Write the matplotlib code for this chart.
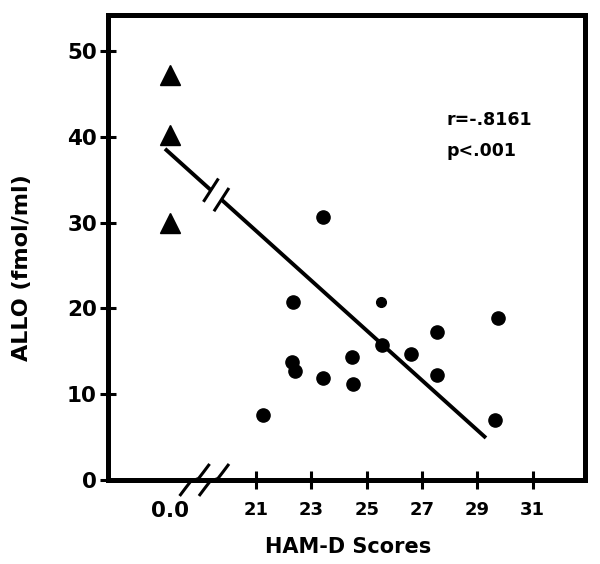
import numpy as np
import matplotlib
matplotlib.use("Agg")
import matplotlib.pyplot as plt

# ---- data ----
ctrl_label = "0.0"
ctrl_pos = 17.9            # axis position used for the "0.0" (control) category
ctrl_allo = [47.2, 40.2, 30.0]

ham_d = [21.26, 22.35, 22.29, 22.41, 23.43, 23.43, 24.46, 24.5, 25.54, 26.6,
         27.55, 27.55, 29.73, 29.65]
allo = [7.6, 20.8, 13.7, 12.7, 30.6, 11.9, 14.3, 11.2, 15.7, 14.7,
        17.2, 12.2, 18.9, 7.0]
small_ham_d = [25.5]
small_allo = [20.7]

fit_x = [17.71, 29.31]
fit_y = [38.6, 4.9]
line_breaks = [19.37, 19.75]
axis_breaks = [18.78, 19.48]

xticks = [21, 23, 25, 27, 29, 31]
yticks = [0, 10, 20, 30, 40, 50]
stats = ["r=-.8161", "p<.001"]

# ---- figure ----
fig = plt.figure(figsize=(6, 5.64), dpi=100)
ax = fig.add_axes([0.18, 0.149, 0.795, 0.8245])
xlim = (15.65, 32.89)
ylim = (0, 54.2)
ax.set_xlim(*xlim)
ax.set_ylim(*ylim)

# pixel -> data unit conversions
fig_w, fig_h = 600, 564
px_x = (xlim[1] - xlim[0]) / (0.795 * fig_w)
px_y = (ylim[1] - ylim[0]) / (0.8245 * fig_h)

for s in ax.spines.values():
    s.set_linewidth(3.6)

ax.plot([ctrl_pos] * len(ctrl_allo), ctrl_allo, linestyle="none", marker="^",
        markersize=14, color="black", clip_on=False)
ax.plot(ham_d, allo, linestyle="none", marker="o", markersize=9.5, color="black")
ax.plot(small_ham_d, small_allo, linestyle="none", marker="o", markersize=7, color="black")

# regression line, broken
seg1 = [fit_x[0], line_breaks[0]]
seg2 = [line_breaks[1], fit_x[1]]
ax.plot(seg1, np.interp(seg1, fit_x, fit_y), color="black", lw=2.8, solid_capstyle="butt")
ax.plot(seg2, np.interp(seg2, fit_x, fit_y), color="black", lw=2.8, solid_capstyle="butt")
for b in line_breaks:
    by = np.interp(b, fit_x, fit_y)
    dx, dy = 7.5 * px_x, 11.65 * px_y
    ax.plot([b - dx, b + dx], [by - dy, by + dy], color="black", lw=2.2,
            solid_capstyle="butt")

# axis break marks
s_px = np.array([(-15, -16), (-9, -8), (-4, -1.5), (4, 1.5), (9, 8), (15, 16)])
for b in axis_breaks:
    ax.plot(b + s_px[:, 0] * px_x, s_px[:, 1] * px_y, color="black", lw=2.2,
            clip_on=False, solid_capstyle="butt")

# ticks
ax.set_xticks([ctrl_pos] + xticks)
ax.set_xticklabels([ctrl_label] + [str(t) for t in xticks], fontsize=13, fontweight="bold")
ax.set_yticks(yticks)
ax.set_yticklabels([str(t) for t in yticks], fontsize=15.5, fontweight="bold")
ax.tick_params(axis="x", direction="inout", length=13, width=2.2, pad=9)
ax.tick_params(axis="y", direction="inout", length=12, width=2.2, pad=2)
first = ax.xaxis.get_major_ticks()[0]
first.tick1line.set_visible(False)
first.label1.set_fontsize(15.5)

# stats text
ax.text(27.89, 42.0, stats[0], fontsize=12.5, fontweight="bold", ha="left", va="center")
ax.text(27.89, 38.3, stats[1], fontsize=12.5, fontweight="bold", ha="left", va="center")

# axis labels
fig.text(348 / fig_w, 1 - 546.7 / fig_h, "HAM-D Scores", fontsize=15, fontweight="bold",
         ha="center", va="center")
fig.text(22 / fig_w, 1 - 268 / fig_h, "ALLO (fmol/ml)", fontsize=16, fontweight="bold",
         ha="center", va="center", rotation=90)

fig.savefig("out.png", dpi=100)
